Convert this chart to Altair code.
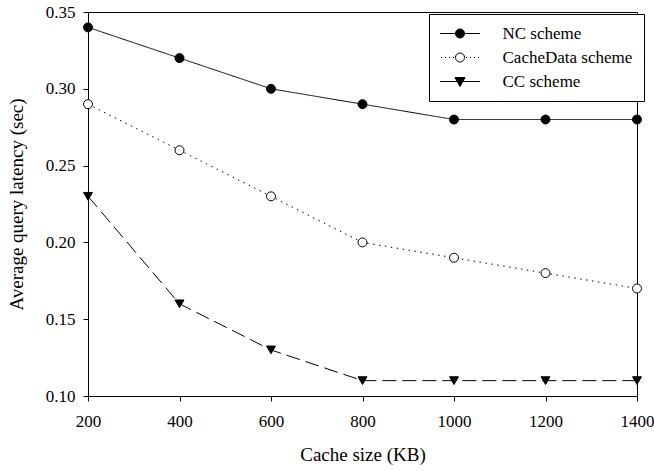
import altair as alt
import pandas as pd

cache_size = [200, 400, 600, 800, 1000, 1200, 1400]
nc_scheme = [0.34, 0.32, 0.30, 0.29, 0.28, 0.28, 0.28]
cachedata_scheme = [0.29, 0.26, 0.23, 0.20, 0.19, 0.18, 0.17]
cc_scheme = [0.23, 0.16, 0.13, 0.11, 0.11, 0.11, 0.11]
series_names = ["NC scheme", "CacheData scheme", "CC scheme"]
x_ticks = [200, 400, 600, 800, 1000, 1200, 1400]
y_ticks = [0.10, 0.15, 0.20, 0.25, 0.30, 0.35]

rows = []
for name, vals in zip(series_names, [nc_scheme, cachedata_scheme, cc_scheme]):
    for x, y in zip(cache_size, vals):
        rows.append({"size": x, "latency": y, "series": name})
df = pd.DataFrame(rows)

FONT = "Times New Roman"

# legend glyphs: line + marker, unit = 5 px (symbolSize 100)
dots_left = [-3.8, -3.0, -2.2, -1.4]
dotted = "".join(f"M{d},0L{d + 0.2},0" for d in dots_left) + "".join(
    f"M{-d - 0.2},0L{-d},0" for d in dots_left)
legend_paths = [
    "M-4,0L4,0M0.9,0A0.9,0.9 0 1,1 -0.9,0A0.9,0.9 0 1,1 0.9,0Z",
    dotted + "M0.9,0A0.9,0.9 0 1,1 -0.9,0A0.9,0.9 0 1,1 0.9,0Z",
    "M-4,0L4,0M-1,-0.8L1,-0.8L0,1Z",
]

x_enc = alt.X("size:Q", title="Cache size (KB)",
              scale=alt.Scale(domain=[200, 1400], nice=False, zero=False),
              axis=alt.Axis(values=x_ticks, format="d", titlePadding=16, labelPadding=12,
                            labelFlush=False))
y_enc = alt.Y("latency:Q", title="Average query latency (sec)",
              scale=alt.Scale(domain=[0.10, 0.35], nice=False, zero=False),
              axis=alt.Axis(values=y_ticks, format=".2f", titlePadding=19, labelPadding=8,
                            labelFlush=False))

base = alt.Chart(df)

lines = base.mark_line(color="black", strokeWidth=1).encode(
    x=x_enc, y=y_enc,
    detail="series:N",
    strokeDash=alt.StrokeDash("series:N", legend=None,
                              scale=alt.Scale(domain=series_names,
                                              range=[[1, 0], [1.5, 4.5], [14, 6]])),
)

points = base.mark_point(filled=True, stroke="black", strokeWidth=1, opacity=1).encode(
    x=x_enc, y=y_enc,
    shape=alt.Shape("series:N", legend=None,
                    scale=alt.Scale(domain=series_names,
                                    range=["circle", "circle", "triangle-down"])),
    fill=alt.Fill("series:N", legend=None,
                  scale=alt.Scale(domain=series_names, range=["black", "white", "black"])),
    size=alt.Size("series:N", legend=None,
                  scale=alt.Scale(domain=series_names, range=[80, 80, 110])),
)


def make_legend():
    return alt.Legend(title=None, orient="none", legendX=341, legendY=2,
                      symbolSize=100, symbolOffset=11.5, labelOffset=34,
                      symbolStrokeColor="black", symbolStrokeWidth=1,
                      symbolOpacity=1, rowPadding=6, padding=11,
                      strokeColor="black", fillColor="white",
                      labelFont=FONT, labelFontSize=17, labelColor="black",
                      labelLimit=300)


legend_layer = base.transform_filter("false").mark_point(
    filled=True, strokeWidth=1, opacity=1).encode(
    x=x_enc, y=y_enc,
    shape=alt.Shape("series:N",
                    scale=alt.Scale(domain=series_names, range=legend_paths),
                    legend=make_legend()),
    fill=alt.Fill("series:N",
                  scale=alt.Scale(domain=series_names, range=["black", "white", "black"]),
                  legend=make_legend()),
    stroke=alt.Stroke("series:N",
                      scale=alt.Scale(domain=series_names, range=["black", "black", "black"]),
                      legend=make_legend()),
)

chart = alt.layer(lines, points, legend_layer).resolve_scale(
    shape="independent", fill="independent", stroke="independent"
).properties(
    width=549, height=384,
    autosize=alt.AutoSizeParams(type="none"),
    padding={"left": 88, "top": 12, "right": 17, "bottom": 75},
    background="white",
).configure_view(
    stroke="black", strokeWidth=1
).configure_axis(
    grid=False,
    domainColor="black", tickColor="black", labelColor="black", titleColor="black",
    tickSize=5, labelFont=FONT, labelFontSize=17, titleFont=FONT, titleFontSize=19,
    titleFontWeight="normal", domainWidth=1, tickWidth=1,
)

chart.save("out.html", embed_options={"renderer": "svg", "actions": False})
